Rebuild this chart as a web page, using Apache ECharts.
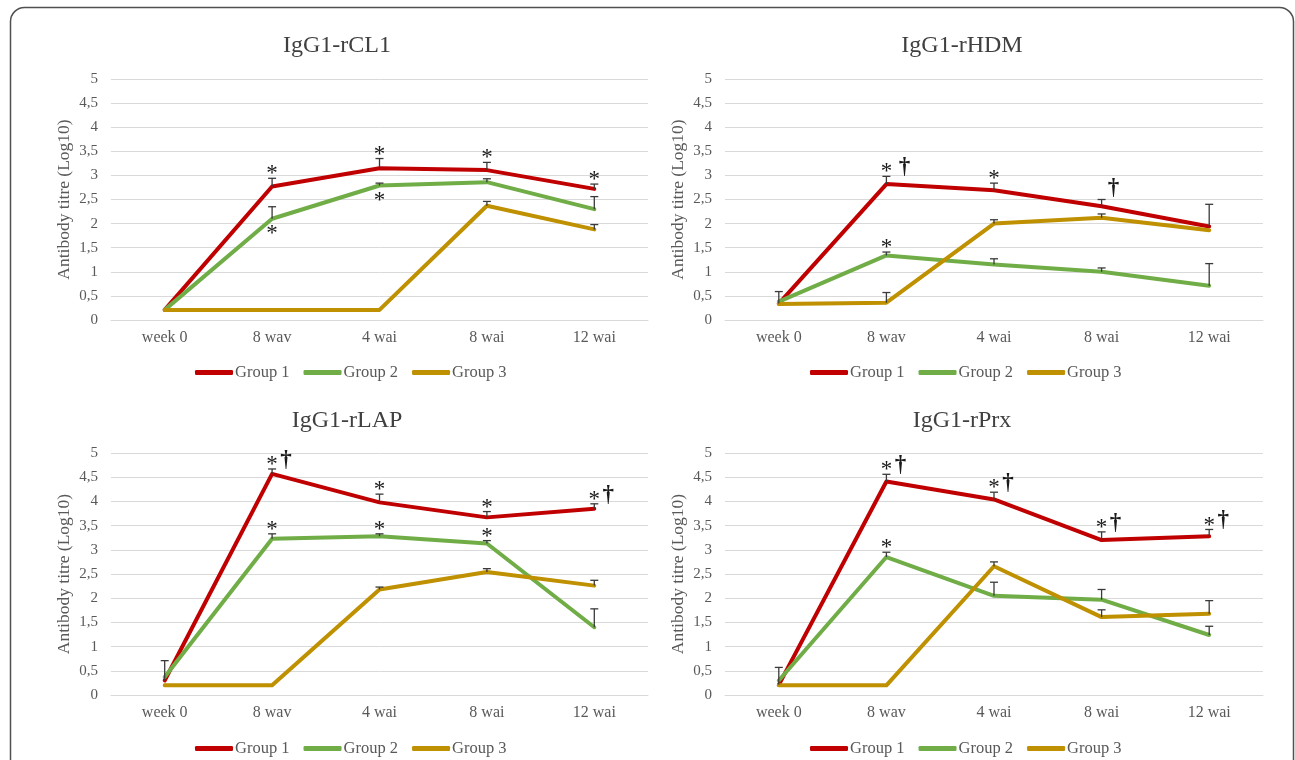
<!DOCTYPE html>
<html><head><meta charset="utf-8">
<script src="https://cdn.jsdelivr.net/npm/echarts@6/dist/echarts.min.js"></script>
<style>html,body{margin:0;padding:0;background:#fff}#c{width:1295px;height:760px}</style>
</head><body><div id="c"></div>
<script>
const categories = ['week 0', '8 wav', '4 wai', '8 wai', '12 wai'];
const groupNames = ['Group 1', 'Group 2', 'Group 3'];
const chartTitles = ['IgG1-rCL1', 'IgG1-rHDM', 'IgG1-rLAP', 'IgG1-rPrx'];
const yAxisName = 'Antibody titre (Log10)';

// IgG1-rCL1
const rCL1_group1 = [0.21, 2.77, 3.15, 3.11, 2.72];
const rCL1_group2 = [0.21, 2.10, 2.79, 2.86, 2.30];
const rCL1_group3 = [0.21, 0.21, 0.21, 2.37, 1.88];
const rCL1_err1 = [null, 0.17, 0.20, 0.16, 0.10];
const rCL1_err2 = [null, 0.25, 0.05, 0.07, 0.26];
const rCL1_err3 = [null, null, null, 0.09, 0.10];
const rCL1_marks = [[0,1,'*','above'],[0,2,'*','above'],[0,3,'*','above'],[0,4,'*','above'],[1,1,'*','below'],[1,2,'*','below']];

// IgG1-rHDM
const rHDM_group1 = [0.34, 2.82, 2.69, 2.36, 1.94];
const rHDM_group2 = [0.38, 1.34, 1.15, 1.00, 0.71];
const rHDM_group3 = [0.33, 0.36, 2.00, 2.12, 1.86];
const rHDM_err1 = [0.25, 0.16, 0.15, 0.14, 0.46];
const rHDM_err2 = [null, 0.07, 0.12, 0.08, 0.46];
const rHDM_err3 = [null, 0.21, 0.08, 0.08, null];
const rHDM_marks = [[0,1,'* †','above'],[0,2,'*','above'],[0,3,'†','right'],[1,1,'*','above']];

// IgG1-rLAP
const rLAP_group1 = [0.30, 4.57, 3.98, 3.67, 3.85];
const rLAP_group2 = [0.37, 3.23, 3.28, 3.13, 1.40];
const rLAP_group3 = [0.20, 0.20, 2.18, 2.54, 2.26];
const rLAP_err1 = [0.41, 0.10, 0.17, 0.12, 0.10];
const rLAP_err2 = [null, 0.10, 0.05, 0.06, 0.38];
const rLAP_err3 = [null, null, 0.05, 0.07, 0.11];
const rLAP_marks = [[0,1,'*†','above'],[0,2,'*','above'],[0,3,'*','above'],[0,4,'*†','above'],[1,1,'*','above'],[1,2,'*','above'],[1,3,'*','above']];

// IgG1-rPrx
const rPrx_group1 = [0.21, 4.41, 4.04, 3.20, 3.28];
const rPrx_group2 = [0.30, 2.85, 2.05, 1.97, 1.24];
const rPrx_group3 = [0.20, 0.20, 2.66, 1.61, 1.68];
const rPrx_err1 = [0.36, 0.15, 0.15, 0.17, 0.14];
const rPrx_err2 = [null, 0.10, 0.28, 0.21, 0.18];
const rPrx_err3 = [null, null, 0.09, 0.15, 0.27];
const rPrx_marks = [[0,1,'*†','above'],[0,2,'*†','above'],[0,3,'*†','above'],[0,4,'*†','above'],[1,1,'*','above']];

const panels = [
  {values:[rCL1_group1, rCL1_group2, rCL1_group3], errs:[rCL1_err1, rCL1_err2, rCL1_err3], marks:rCL1_marks},
  {values:[rHDM_group1, rHDM_group2, rHDM_group3], errs:[rHDM_err1, rHDM_err2, rHDM_err3], marks:rHDM_marks},
  {values:[rLAP_group1, rLAP_group2, rLAP_group3], errs:[rLAP_err1, rLAP_err2, rLAP_err3], marks:rLAP_marks},
  {values:[rPrx_group1, rPrx_group2, rPrx_group3], errs:[rPrx_err1, rPrx_err2, rPrx_err3], marks:rPrx_marks}
];

const colors = ['#C00000', '#70AD47', '#BF9000'];
const serif = '"Liberation Serif", "Times New Roman", serif';
const gridBoxes = [
  {left: 111, top: 79, width: 537, height: 241},
  {left: 725, top: 79, width: 538, height: 241},
  {left: 111, top: 453, width: 537, height: 242},
  {left: 725, top: 453, width: 538, height: 242}
];
const titlePos = [[337, 46], [962, 46], [347, 421], [962, 421]];
const legendPos = [[195, 364], [810, 364], [195, 740], [810, 740]];

const chart = echarts.init(document.getElementById('c'), null, {renderer: 'canvas'});

const grid = [], xAxis = [], yAxis = [], series = [], legend = [], graphic = [];

graphic.push({
  type: 'rect', z: 100, silent: true,
  shape: {x: 10.5, y: 7.5, width: 1283, height: 820, r: 14},
  style: {fill: 'none', stroke: '#505050', lineWidth: 1.5}
});

function errRender(params, api) {
  const x = api.value(0), v = api.value(1), e = api.value(2);
  const p0 = api.coord([x, v]);
  const p1 = api.coord([x, v + e]);
  const hw = 4;
  const st = {stroke: '#3a3a3a', lineWidth: 1.3};
  return {type: 'group', children: [
    {type: 'line', shape: {x1: p0[0], y1: p0[1], x2: p1[0], y2: p1[1]}, style: st},
    {type: 'line', shape: {x1: p1[0] - hw, y1: p1[1], x2: p1[0] + hw, y2: p1[1]}, style: st}
  ]};
}

function makeMarkRender(marks) {
  return function (params, api) {
    const m = marks[params.dataIndex];
    const p = api.coord([api.value(0), api.value(1)]);
    const children = [];
    const sym = m[2], place = m[3];
    const txt = (t, x, y, font) => ({type: 'text', style: {text: t, x: x, y: y, align: 'center', verticalAlign: 'middle', textAlign: 'center', textVerticalAlign: 'middle', font: font, fill: '#1a1a1a'}});
    const starFont = '23px ' + serif;
    const dagFont = 'bold 23px ' + serif;
    if (place === 'above') {
      if (sym.indexOf('*') >= 0) children.push(txt('*', p[0], p[1] - 4, starFont));
      if (sym.indexOf('†') >= 0) {
        const dx = sym.indexOf(' ') >= 0 ? 18 : 14;
        children.push(txt('†', p[0] + dx, p[1] - 9, dagFont));
      }
    } else if (place === 'below') {
      children.push(txt('*', p[0], p[1] + 15, starFont));
    } else if (place === 'right') {
      children.push(txt('†', p[0] + 12, p[1] - 11, dagFont));
    }
    return {type: 'group', children: children};
  };
}

panels.forEach((pn, i) => {
  grid.push(Object.assign({containLabel: false}, gridBoxes[i]));
  xAxis.push({
    type: 'category', gridIndex: i, data: categories, boundaryGap: true,
    axisLine: {show: true, lineStyle: {color: '#d9d9d9', width: 1}},
    axisTick: {show: false},
    axisLabel: {color: '#595959', fontFamily: serif, fontSize: 16, margin: 10}
  });
  yAxis.push({
    type: 'value', gridIndex: i, min: 0, max: 5, interval: 0.5,
    name: yAxisName, nameLocation: 'middle', nameGap: 38, nameRotate: 90,
    nameTextStyle: {color: '#595959', fontFamily: serif, fontSize: 17.5},
    axisLine: {show: false}, axisTick: {show: false},
    splitLine: {lineStyle: {color: '#d9d9d9', width: 1}},
    axisLabel: {color: '#595959', fontFamily: serif, fontSize: 15, margin: 13,
      formatter: v => String(v).replace('.', ',')}
  });
  graphic.push({
    type: 'text', x: titlePos[i][0], y: titlePos[i][1],
    style: {text: chartTitles[i], align: 'center', verticalAlign: 'middle', textAlign: 'center', textVerticalAlign: 'middle',
      font: '24px ' + serif, fill: '#404040'}
  });
  legend.push({
    left: legendPos[i][0], top: legendPos[i][1], padding: 0, itemGap: 14,
    itemWidth: 38, itemHeight: 5, icon: 'roundRect',
    data: groupNames, selectedMode: false,
    textStyle: {color: '#595959', fontFamily: serif, fontSize: 16.5, padding: [0, 0, 0, -3]}
  });
  pn.values.forEach((vals, g) => {
    series.push({
      type: 'line', name: groupNames[g], xAxisIndex: i, yAxisIndex: i,
      data: vals, symbol: 'none', z: 2, animation: false,
      lineStyle: {color: colors[g], width: 4, cap: 'round', join: 'round'},
      itemStyle: {color: colors[g]}
    });
  });
  pn.errs.forEach((errs, g) => {
    const d = [];
    errs.forEach((e, k) => { if (e != null) d.push([k, pn.values[g][k], e]); });
    series.push({
      type: 'custom', xAxisIndex: i, yAxisIndex: i, z: 3, silent: true, animation: false,
      renderItem: errRender, encode: {x: 0, y: 1}, data: d
    });
  });
  const md = pn.marks.map(m => {
    const g = m[0], k = m[1];
    const v = pn.values[g][k];
    const e = pn.errs[g][k] || 0;
    return [k, m[3] === 'below' ? v : v + e];
  });
  series.push({
    type: 'custom', xAxisIndex: i, yAxisIndex: i, z: 4, silent: true, animation: false,
    renderItem: makeMarkRender(pn.marks), encode: {x: 0, y: 1}, data: md
  });
});

chart.setOption({
  animation: false,
  backgroundColor: '#ffffff',
  grid, xAxis, yAxis, series, legend, graphic
});
</script>
</body></html>
